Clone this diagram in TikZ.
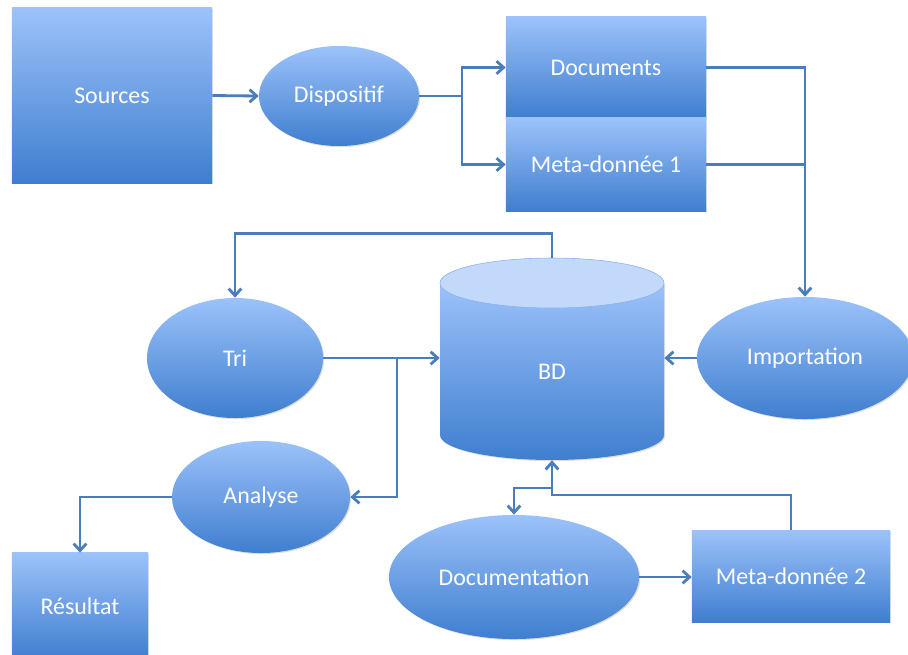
\documentclass[tikz,border=0pt]{standalone}
\usepackage{fontspec}
\setmainfont{Carlito}
\usetikzlibrary{arrows.meta,shapes.geometric,shadows}
\definecolor{boxtop}{HTML}{9CC2FA}
\definecolor{boxbottom}{HTML}{3F7ECF}
\definecolor{cyltop}{HTML}{C3D9FC}
\definecolor{linkblue}{HTML}{4A7EBB}
\tikzset{
	shaded/.style={top color=boxtop, bottom color=boxbottom, text=white, font=\fontsize{17}{20}\selectfont, inner sep=0pt,
		drop shadow={opacity=0.25, shadow xshift=0.8pt, shadow yshift=-0.8pt}},
	box/.style={shaded, rectangle},
	oval/.style={shaded, ellipse},
	txt/.style={text=white, font=\fontsize{17}{20}\selectfont},
	link/.style={draw=linkblue, line width=2pt, -{Straight Barb[length=5pt,width=9pt]}},
	plainlink/.style={draw=linkblue, line width=2pt}
}
\begin{document}
\begin{tikzpicture}[x=0.025cm, y=-0.025cm]
		\useasboundingbox (0,0) rectangle (908,654);
		
		% top row
		\node[box, minimum width=5cm, minimum height=4.375cm] (sources) at (112,95.5) {Sources};
		\node[oval, minimum width=4cm, minimum height=2.5cm] (dispositif) at (339,96) {Dispositif};
		\node[box, minimum width=5cm, minimum height=2.525cm] (documents) at (606,67.5) {Documents};
		\node[box, minimum width=5cm, minimum height=2.325cm] (meta1) at (606,164.5) {Meta-donnée 1};
		
		% data base
		\shade[top color=boxtop, bottom color=boxbottom, drop shadow={opacity=0.25, shadow xshift=0.8pt, shadow yshift=-0.8pt}]
			(440,283) -- (440,435) arc[start angle=180, end angle=0, x radius=112, y radius=25] -- (664,283) -- cycle;
		\filldraw[fill=cyltop, draw=boxtop!75!boxbottom, line width=0.4pt] (552,283) ellipse [x radius=112, y radius=25];
		\node[minimum width=5.6cm, minimum height=5.05cm, inner sep=0pt] (bd) at (552,359) {};
		\node[txt] (bdtext) at (552,372) {BD};
		
		% middle row
		\node[oval, minimum width=4.4cm, minimum height=3cm] (tri) at (235,358) {Tri};
		\node[oval, minimum width=5.4cm, minimum height=3.05cm] (importation) at (805,358) {Importation};
		\node[oval, minimum width=4.45cm, minimum height=2.8cm] (analyse) at (261,497) {Analyse};
		
		% bottom row
		\node[box, minimum width=3.4cm, minimum height=2.675cm] (resultat) at (80,606.5) {Résultat};
		\node[oval, minimum width=6.25cm, minimum height=3.1cm] (documentation) at (514,577) {Documentation};
		\node[box, minimum width=4.95cm, minimum height=2.3cm] (meta2) at (791,576) {Meta-donnée 2};
		
		% connectors
		\coordinate (split) at (462,96);
		\coordinate (join) at (397,358);
		\coordinate (low) at (552,495);
		\coordinate (fork) at (552,488);
		\draw[link] (sources.east) -- (dispositif.west);
		\draw[plainlink] (dispositif.east) -- (split);
		\draw[link] (split) |- (documents.west);
		\draw[link] (split) |- (meta1.west);
		\draw[link] (documents.east) -| (importation.north);
		\draw[plainlink] (meta1.east) -- (meta1.east -| importation.north);
		\draw[link] (importation.west) -- (importation.west -| bd.east);
		\draw[link] (bd.north) -- ++(0,-24) -| (tri.north);
		\draw[link] (tri.east) -- (tri.east -| bd.west);
		\draw[link] (join) |- (analyse.east);
		\draw[link] (analyse.west) -| (resultat.north);
		\draw[link] (documentation.east) -- (documentation.east -| meta2.west);
		\draw[link] (meta2.north) |- (low) -- (bd.south);
		\draw[link] (fork) -| (documentation.north);
	\end{tikzpicture}
\end{document}
